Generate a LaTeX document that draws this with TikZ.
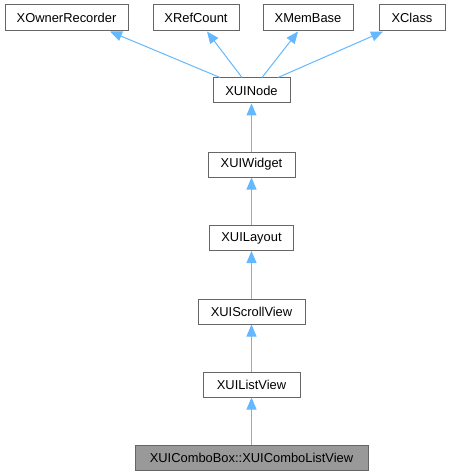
\documentclass[tikz,border=0pt]{standalone}
\usepackage{fontspec}
\setmainfont{Liberation Sans}
\usetikzlibrary{arrows.meta}
\definecolor{edgeblue}{HTML}{63B8FF}
\definecolor{boxline}{HTML}{666666}
\definecolor{boxfill}{HTML}{999999}
\begin{document}
\begin{tikzpicture}[x=1pt,y=-1pt,
  cls/.style={draw=boxline,line width=1pt,fill=white,minimum height=25pt,inner sep=0pt,font=\fontsize{12.9}{14}\selectfont},
  cur/.style={cls,fill=boxfill},
  inh/.style={draw=edgeblue,line width=1pt,-{Triangle[length=12pt,width=10pt]}}]
\useasboundingbox (0,0) rectangle (450,476);
\node[cls,minimum width=123pt,minimum height=26pt] (own) at (66.5,18) {XOwnerRecorder};
\node[cls,minimum width=86pt,minimum height=26pt] (ref) at (196,18) {XRefCount};
\node[cls,minimum width=90pt,minimum height=26pt] (mem) at (308,18) {XMemBase};
\node[cls,minimum width=66pt,minimum height=26pt] (xcl) at (412,18) {XClass};
\node[cls,minimum width=77pt] (node) at (251.5,90.5) {XUINode};
\node[cls,minimum width=87pt] (wid) at (251.5,164.5) {XUIWidget};
\node[cls,minimum width=84pt] (lay) at (251.5,238) {XUILayout};
\node[cls,minimum width=107pt] (scr) at (251.5,311.5) {XUIScrollView};
\node[cls,minimum width=97pt] (lst) at (251.5,384.5) {XUIListView};
\node[cur,minimum width=233pt] (cmb) at (251.5,457.5) {XUIComboBox::XUIComboListView};
\draw[inh] ([xshift=-31.5pt]node.north) -- ([xshift=43.5pt]own.south);
\draw[inh] ([xshift=-9.5pt]node.north) -- ([xshift=11pt]ref.south);
\draw[inh] ([xshift=10.5pt]node.north) -- ([xshift=-10pt]mem.south);
\draw[inh] ([xshift=26.5pt]node.north) -- ([xshift=-29pt]xcl.south);
\draw[inh] (wid) -- (node);
\draw[inh] (lay) -- (wid);
\draw[inh] (scr) -- (lay);
\draw[inh] (lst) -- (scr);
\draw[inh] (cmb) -- (lst);
\end{tikzpicture}
\end{document}
